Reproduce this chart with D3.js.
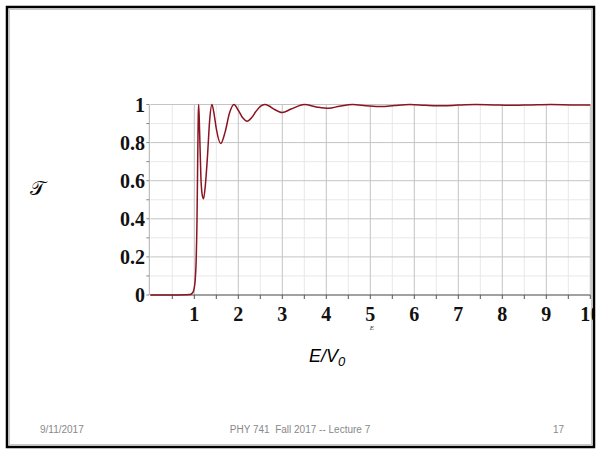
<!DOCTYPE html>
<html>
<head>
<meta charset="utf-8">
<script src="https://cdn.jsdelivr.net/npm/d3@7"></script>
<style>
  body { margin: 0; background: #fff; }
  svg { display: block; }
</style>
</head>
<body>
<svg id="slide" width="596" height="449"></svg>
<script>
// E/V0 values and transmission
const energy = [0, 0.5, 0.8, 0.9, 0.95, 0.98, 1.0, 1.02, 1.04, 1.06, 1.08, 1.09, 1.1,
  1.12, 1.15, 1.18, 1.21, 1.25, 1.3, 1.35, 1.4, 1.45, 1.5, 1.6, 1.7, 1.8, 1.9,
  2.0, 2.1, 2.2, 2.3, 2.4, 2.5, 2.6, 2.7, 2.8, 3.0, 3.2, 3.5, 3.8, 4.05, 4.3,
  4.6, 4.9, 5.25, 5.55, 5.9, 6.25, 6.65, 7.0, 7.4, 7.8, 8.25, 8.65, 9.1, 9.55, 10];
const trans = [0, 0, 0.001, 0.002, 0.009, 0.02, 0.039, 0.077, 0.166, 0.373, 0.765, 0.939, 1.0,
  0.863, 0.617, 0.525, 0.505, 0.573, 0.73, 0.92, 1.0, 0.95, 0.873, 0.795, 0.855, 0.955, 1.0,
  0.97, 0.93, 0.912, 0.93, 0.963, 0.99, 1.0, 0.992, 0.977, 0.958, 0.976, 1.0, 0.986, 0.98, 0.991,
  1.0, 0.994, 0.989, 0.995, 1.0, 0.996, 0.993, 0.997, 1.0, 0.998, 0.996, 0.998, 1.0, 0.998, 0.997];

const xTicks = [1, 2, 3, 4, 5, 6, 7, 8, 9, 10];
const yTicks = [0, 0.2, 0.4, 0.6, 0.8, 1];
const yTickLabels = ['0', '0.2', '0.4', '0.6', '0.8', '1'];

const svg = d3.select('#slide');
svg.append('rect').attr('width', 596).attr('height', 449).attr('fill', '#fff');

const x = d3.scaleLinear().domain([0, 10]).range([150.3, 590.3]);
const y = d3.scaleLinear().domain([0, 1]).range([295, 104.5]);

svg.append('clipPath').attr('id', 'cut')
  .append('rect').attr('x', 0).attr('y', 0).attr('width', 593).attr('height', 449);

const g = svg.append('g').attr('clip-path', 'url(#cut)');

// minor grid
g.append('g')
  .selectAll('line')
  .data(d3.range(0.5, 10, 1))
  .join('line')
  .attr('x1', d => x(d)).attr('x2', d => x(d))
  .attr('y1', y(0)).attr('y2', y(1))
  .attr('stroke', '#e8e8e8');
g.append('g')
  .selectAll('line')
  .data(d3.range(0.1, 1, 0.2))
  .join('line')
  .attr('x1', x(0)).attr('x2', x(10))
  .attr('y1', d => y(d)).attr('y2', d => y(d))
  .attr('stroke', '#e8e8e8');

// major grid
g.append('g')
  .selectAll('line')
  .data(xTicks)
  .join('line')
  .attr('x1', d => x(d)).attr('x2', d => x(d))
  .attr('y1', y(0)).attr('y2', y(1))
  .attr('stroke', '#c4c4c4');
g.append('g')
  .selectAll('line')
  .data(yTicks.slice(1))
  .join('line')
  .attr('x1', x(0)).attr('x2', x(10))
  .attr('y1', d => y(d)).attr('y2', d => y(d))
  .attr('stroke', '#c4c4c4');

// left axis: gray line with small ticks
g.append('line')
  .attr('x1', x(0) - 1).attr('x2', x(0) - 1)
  .attr('y1', y(0)).attr('y2', y(1))
  .attr('stroke', '#b0b0b0');
g.append('g')
  .selectAll('line')
  .data(d3.range(0, 1.01, 0.1))
  .join('line')
  .attr('x1', x(0) - 4).attr('x2', x(0) - 1)
  .attr('y1', d => y(d)).attr('y2', d => y(d))
  .attr('stroke', '#888');

// bottom axis
g.append('line')
  .attr('x1', x(0)).attr('x2', x(10))
  .attr('y1', y(0)).attr('y2', y(0))
  .attr('stroke', '#444').attr('stroke-width', 1.2);
g.append('g')
  .selectAll('line')
  .data(d3.range(0.5, 10.01, 0.5))
  .join('line')
  .attr('x1', d => x(d)).attr('x2', d => x(d))
  .attr('y1', y(0)).attr('y2', y(0) + 4)
  .attr('stroke', '#555');

// tick labels
const tickFont = '"Liberation Serif", "Times New Roman", serif';
g.append('g')
  .selectAll('text')
  .data(xTicks)
  .join('text')
  .attr('x', d => x(d))
  .attr('y', 321)
  .attr('text-anchor', 'middle')
  .attr('font-family', tickFont)
  .attr('font-weight', 'bold')
  .attr('font-size', 20)
  .attr('fill', '#111')
  .text(d => d);
g.append('g')
  .selectAll('text')
  .data(yTicks)
  .join('text')
  .attr('x', 145)
  .attr('y', d => y(d) + 7)
  .attr('text-anchor', 'end')
  .attr('font-family', tickFont)
  .attr('font-weight', 'bold')
  .attr('font-size', 20)
  .attr('fill', '#111')
  .text((d, i) => yTickLabels[i]);

// curve
const line = d3.line()
  .x((d, i) => x(energy[i]))
  .y(d => y(d))
  .curve(d3.curveMonotoneX);
g.append('path')
  .datum(trans)
  .attr('d', line)
  .attr('fill', 'none')
  .attr('stroke', '#8a1420')
  .attr('stroke-width', 1.5);

// axis titles
svg.append('text')
  .attr('x', 372).attr('y', 330)
  .attr('text-anchor', 'middle')
  .attr('font-family', '"Liberation Serif", serif')
  .attr('font-style', 'italic')
  .attr('font-size', 7)
  .attr('fill', '#333')
  .text('E');

const xl = svg.append('text')
  .attr('x', 309).attr('y', 362)
  .attr('font-family', '"Liberation Sans", Arial, sans-serif')
  .attr('font-style', 'italic')
  .attr('font-size', 18)
  .attr('fill', '#000');
xl.append('tspan').text('E/V');
xl.append('tspan').attr('font-size', 13).attr('dy', 4).text('0');

svg.append('text')
  .attr('x', 37).attr('y', 195)
  .attr('text-anchor', 'middle')
  .attr('font-family', '"DejaVu Serif", serif')
  .attr('font-size', 20)
  .attr('fill', '#000')
  .text('\u{1D4AF}');

// footer
const footFont = '"Liberation Sans", Arial, sans-serif';
svg.append('text').attr('x', 40).attr('y', 433)
  .attr('font-family', footFont).attr('font-size', 10).attr('fill', '#888')
  .text('9/11/2017');
svg.append('text').attr('x', 300).attr('y', 433).attr('text-anchor', 'middle')
  .attr('font-family', footFont).attr('font-size', 10).attr('fill', '#888')
  .style('white-space', 'pre')
  .text('PHY 741  Fall 2017 -- Lecture 7');
svg.append('text').attr('x', 564).attr('y', 433).attr('text-anchor', 'end')
  .attr('font-family', footFont).attr('font-size', 10).attr('fill', '#888')
  .text('17');

// slide border
svg.append('rect')
  .attr('x', 7).attr('y', 7).attr('width', 587).attr('height', 440)
  .attr('fill', 'none').attr('stroke', '#000').attr('stroke-width', 2.5);
svg.append('rect')
  .attr('x', 9.5).attr('y', 9.5).attr('width', 582).attr('height', 435)
  .attr('fill', 'none').attr('stroke', '#bbb').attr('stroke-width', 0.8);
</script>
</body>
</html>
